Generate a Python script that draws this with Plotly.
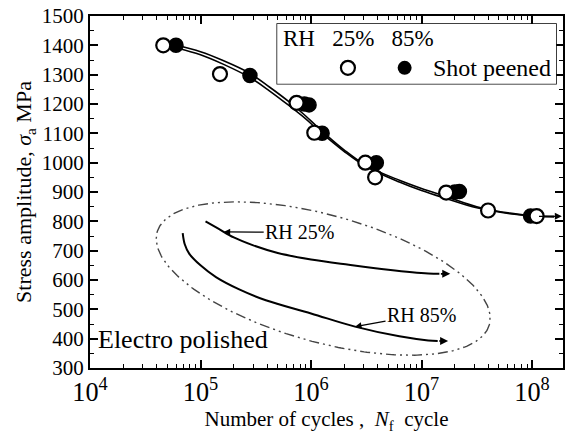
import numpy as np
import plotly.graph_objects as go

FONT = "Liberation Serif"

# ---------------- data ----------------
# Shot peened, RH 25 % (open circles)
sp25_N = [4.6e4, 1.5e5, 7.4e5, 1.07e6, 3.1e6, 3.8e6, 1.67e7, 4.0e7, 1.1e8]
sp25_S = [1400, 1302, 1204, 1102, 1000, 950, 898, 837, 818]
# Shot peened, RH 85 % (filled circles)
sp85_N = [6.0e4, 2.8e5, 8.7e5, 9.6e5, 1.26e6, 3.9e6, 2.0e7, 2.2e7, 9.7e7]
sp85_S = [1400, 1297, 1200, 1197, 1100, 1000, 900, 902, 818]

# S-N fitted curves of the shot peened specimens
fitA_N = [6.0e4, 1.0e5, 1.6e5, 2.75e5, 4.2e5, 6.3e5, 8.9e5, 1.17e6, 2.0e6,
          3.16e6, 6.3e6, 1.0e7, 1.66e7, 3.16e7, 6.3e7, 1.12e8, 1.58e8]
fitA_S = [1400, 1378, 1348, 1306, 1258, 1208, 1160, 1118, 1043,
          990, 940, 912, 885, 850, 828, 818, 816]
fitB_N = fitA_N
fitB_S = [1392, 1368, 1336, 1292, 1245, 1195, 1150, 1110, 1038,
          986, 934, 905, 878, 846, 826, 817, 816]
fit_arrow_N = [1.12e8, 1.86e8]
fit_arrow_S = [817, 817]

# Electro polished curves
ep25_N = [1.11e5, 1.45e5, 2.0e5, 3.0e5, 5.0e5, 1.0e6, 2.2e6, 5.0e6, 1.15e7, 1.45e7]
ep25_S = [800, 775, 745, 718, 692, 670, 652, 635, 622, 621]
ep25_arrow_N = [1.45e7, 1.82e7]
ep25_arrow_S = [621, 621]
ep85_N = [6.9e4, 7.2e4, 7.9e4, 1.0e5, 1.38e5, 2.24e5, 3.9e5, 1.0e6,
          2.5e6, 6.3e6, 1.15e7, 1.4e7]
ep85_S = [760, 722, 690, 650, 610, 568, 531, 486, 441, 408, 394, 392]
ep85_arrow_N = [1.4e7, 1.74e7]
ep85_arrow_S = [392, 392]

# label pointers (tip on curve, text position)
lab25_tip = (1.62e5, 764)
lab25_txt = (7.9e5, 762)
lab85_tip = (2.5e6, 441)
lab85_txt = (1.0e7, 482)

# ellipse surrounding the electro polished curves
ell_center = (6.11, 605)        # (log10 N, MPa)
ell_axes = (1.56, 0.573)        # semi axes in decades
ell_angle_deg = 15.5
mpa_per_decade = 378.0

# legend keys
legend_key_x = [0.2536, 0.457]
legend_key_y = [0.267, 0.267]

# ---------------- figure ----------------
fig = go.Figure()

fig.add_trace(go.Scatter(x=fitA_N, y=fitA_S, mode="lines",
                         line=dict(color="black", width=1.6, shape="spline", smoothing=1.0),
                         showlegend=False, hoverinfo="skip"))
fig.add_trace(go.Scatter(x=fitB_N, y=fitB_S, mode="lines",
                         line=dict(color="black", width=1.6, shape="spline", smoothing=1.0),
                         showlegend=False, hoverinfo="skip"))

fig.add_trace(go.Scatter(x=ep25_N, y=ep25_S, mode="lines",
                         line=dict(color="black", width=2, shape="spline", smoothing=1.0),
                         showlegend=False))
fig.add_trace(go.Scatter(x=ep85_N, y=ep85_S, mode="lines",
                         line=dict(color="black", width=2, shape="spline", smoothing=1.0),
                         showlegend=False))

# ellipse
t = np.linspace(0, 2 * np.pi, 361)
th = np.deg2rad(ell_angle_deg)
a, b = ell_axes
u = a * np.cos(t) * np.cos(th) - b * np.sin(t) * np.sin(th)
v = a * np.cos(t) * np.sin(th) + b * np.sin(t) * np.cos(th)
ell_x = 10 ** (ell_center[0] + u)
ell_y = ell_center[1] - v * mpa_per_decade
fig.add_trace(go.Scatter(x=ell_x, y=ell_y, mode="lines",
                         line=dict(color="#444", width=1.4, dash="10px,4px,2px,4px,2px,4px"),
                         showlegend=False, hoverinfo="skip"))

# data points (filled first, open on top)
fig.add_trace(go.Scatter(x=sp85_N, y=sp85_S, mode="markers", name="RH 85%",
                         marker=dict(symbol="circle", size=14, color="black",
                                     line=dict(color="black", width=1.5)),
                         showlegend=False))
fig.add_trace(go.Scatter(x=sp25_N, y=sp25_S, mode="markers", name="RH 25%",
                         marker=dict(symbol="circle", size=14, color="white",
                                     line=dict(color="black", width=2.2)),
                         showlegend=False))

# legend keys on an inset axis
fig.add_trace(go.Scatter(x=legend_key_x[:1], y=legend_key_y[:1], mode="markers",
                         xaxis="x2", yaxis="y2",
                         marker=dict(symbol="circle", size=14, color="white",
                                     line=dict(color="black", width=2.2)),
                         showlegend=False))
fig.add_trace(go.Scatter(x=legend_key_x[1:], y=legend_key_y[1:], mode="markers",
                         xaxis="x2", yaxis="y2",
                         marker=dict(symbol="circle", size=14, color="black"),
                         showlegend=False))

annotations = []


def arrow(xs, ys, width=1.3, size=1.0):
    annotations.append(dict(x=np.log10(xs[1]), y=ys[1], ax=np.log10(xs[0]), ay=ys[0],
                            xref="x", yref="y", axref="x", ayref="y", text="",
                            showarrow=True, arrowhead=2, arrowsize=size,
                            arrowwidth=width, arrowcolor="black", standoff=0))


arrow(fit_arrow_N, fit_arrow_S, width=1.4, size=1.0)
arrow(ep25_arrow_N, ep25_arrow_S, width=1.6, size=1.0)
arrow(ep85_arrow_N, ep85_arrow_S, width=1.6, size=1.0)

for tip, txt, label in [(lab25_tip, lab25_txt, "RH 25%"), (lab85_tip, lab85_txt, "RH 85%")]:
    annotations.append(dict(x=np.log10(tip[0]), y=tip[1], ax=np.log10(txt[0]), ay=txt[1],
                            xref="x", yref="y", axref="x", ayref="y", text=label,
                            showarrow=True, arrowhead=2, arrowsize=1.0, arrowwidth=1.3,
                            arrowcolor="black", standoff=0,
                            font=dict(family=FONT, size=20, color="black")))

annotations.append(dict(x=0.013, y=0.082, xref="paper", yref="paper", text="Electro polished",
                        showarrow=False, xanchor="left", yanchor="middle",
                        font=dict(family=FONT, size=26, color="black")))

# legend text
annotations.append(dict(x=0.012, y=0.76, xref="x2 domain", yref="y2 domain",
                        text="RH   25%   85%", showarrow=False, xanchor="left", yanchor="middle",
                        font=dict(family=FONT, size=23, color="black")))
annotations.append(dict(x=0.55, y=0.267, xref="x2 domain", yref="y2 domain",
                        text="Shot peened", showarrow=False, xanchor="left", yanchor="middle",
                        font=dict(family=FONT, size=24, color="black")))

shapes = [dict(type="rect", xref="x2 domain", yref="y2 domain", x0=0, x1=1, y0=0, y1=1,
               line=dict(color="black", width=1.5), fillcolor="white", layer="below")]

fig.update_layout(
    width=569, height=437,
    margin=dict(l=90, r=4, t=15, b=69),
    paper_bgcolor="white", plot_bgcolor="white",
    font=dict(family=FONT, size=20, color="black"),
    showlegend=False,
    annotations=annotations,
    shapes=shapes,
    xaxis=dict(type="log", range=[4, 8.28], dtick=1, exponentformat="power",
               showline=True, linecolor="black", linewidth=2, mirror="allticks",
               ticks="inside", ticklen=8, tickwidth=1.5, tickcolor="black",
               showgrid=False, zeroline=False, ticklabelstandoff=1,
               tickfont=dict(family=FONT, size=21),
               minor=dict(ticks="inside", ticklen=4, tickwidth=1.2, dtick="D1",
                          tickcolor="black", showgrid=False),
               title=dict(text="Number of cycles ,  <i>N</i><sub>f</sub>  cycle",
                          font=dict(family=FONT, size=21), standoff=2)),
    yaxis=dict(range=[300, 1500], dtick=100,
               showline=True, linecolor="black", linewidth=2, mirror="allticks",
               ticks="inside", ticklen=8, tickwidth=1.5, tickcolor="black",
               showgrid=False, zeroline=False,
               tickfont=dict(family=FONT, size=21),
               minor=dict(ticks="inside", ticklen=4, tickwidth=1.2, dtick=50,
                          tickcolor="black", showgrid=False),
               title=dict(text="Stress amplitude, <i>σ</i><sub>a</sub> MPa",
                          font=dict(family=FONT, size=22), standoff=4)),
    xaxis2=dict(domain=[0.3958, 0.9853], anchor="y2", range=[0, 1], visible=False),
    yaxis2=dict(domain=[0.8074, 0.9773], anchor="x2", range=[0, 1], visible=False),
)

fig.write_html("out.html")
